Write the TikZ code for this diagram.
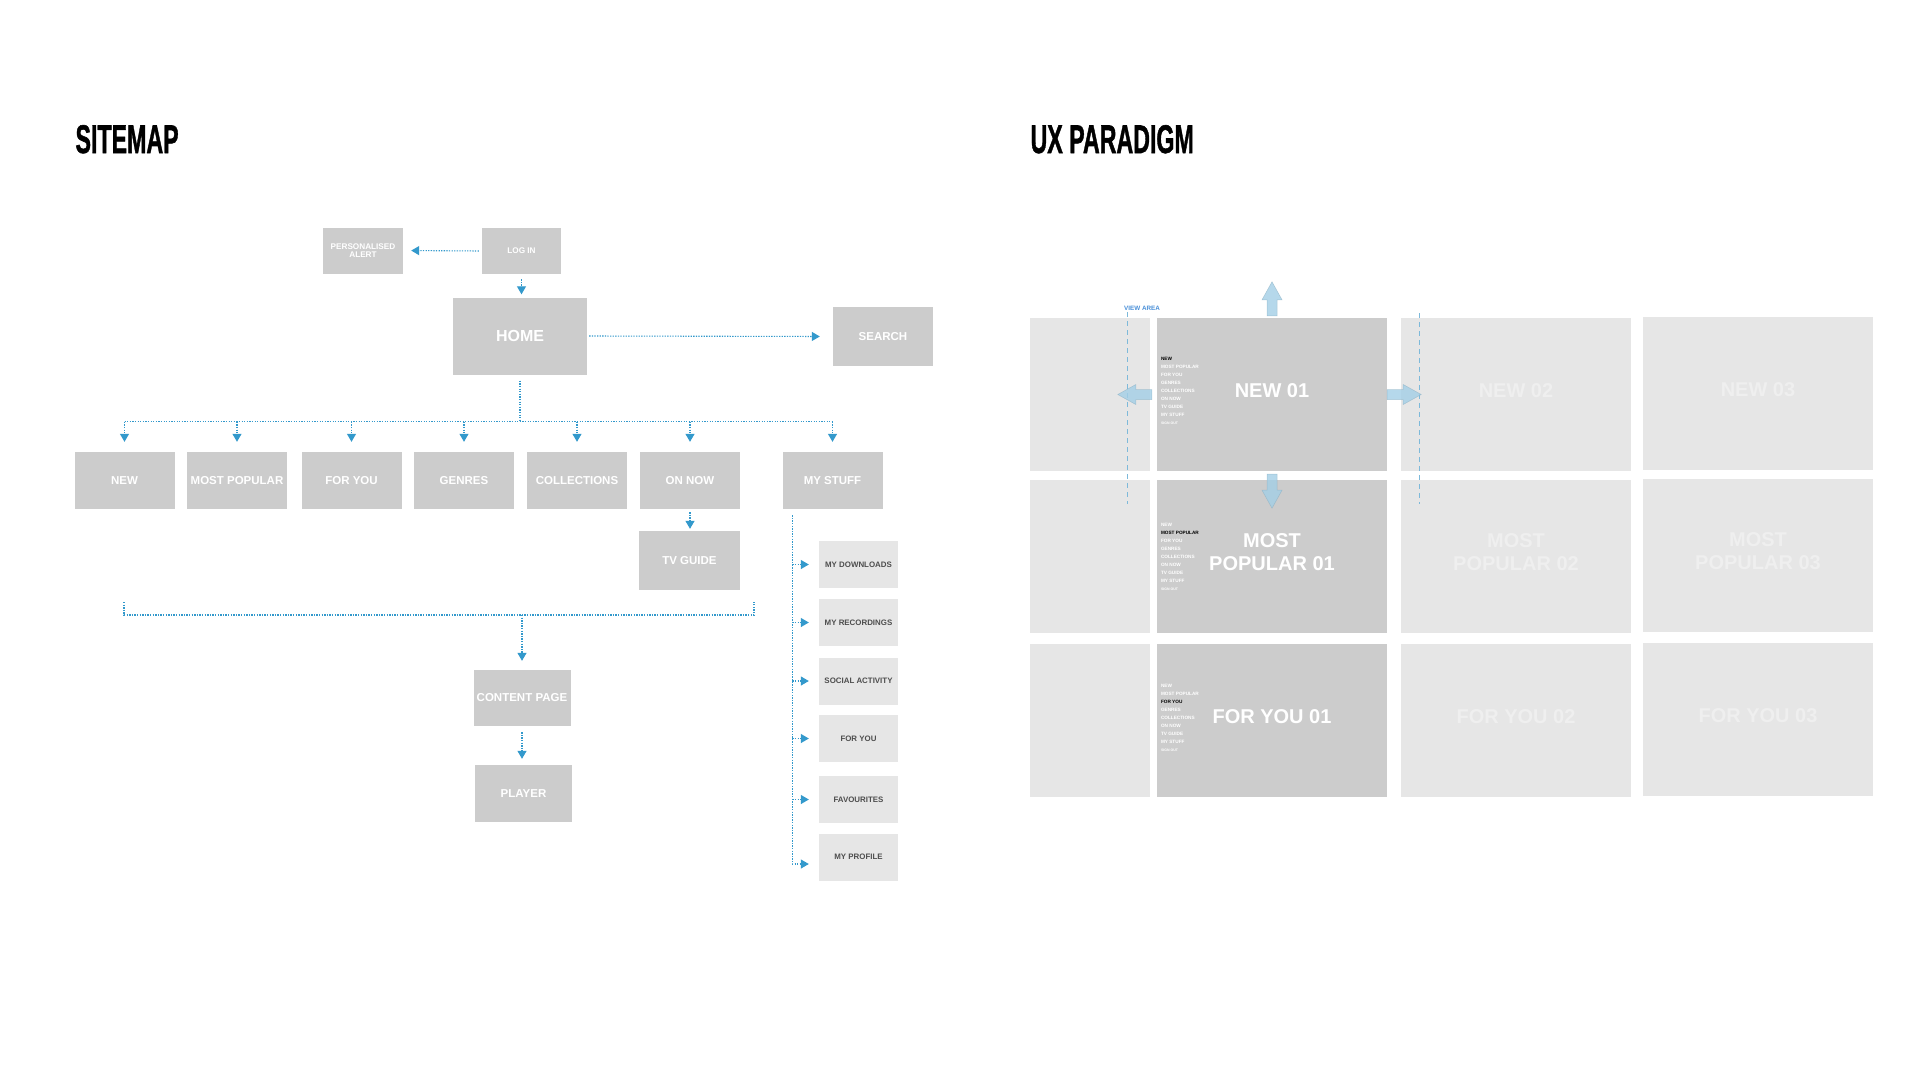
\documentclass[tikz,border=0pt]{standalone}
\usepackage{fontspec}
\setmainfont{Liberation Sans}
\newfontfamily\titlefont[FakeBold=1.5]{Liberation Sans}
\usetikzlibrary{arrows.meta}

\definecolor{boxgray}{HTML}{CCCCCC}
\definecolor{palegray}{HTML}{E6E6E6}
\definecolor{linkblue}{HTML}{3399CC}
\definecolor{subtext}{HTML}{4D4D4D}
\definecolor{ghost}{HTML}{EFEFEF}
\definecolor{viewblue}{HTML}{4A90D9}
\definecolor{dashblue}{HTML}{7DB9DA}
\definecolor{flowblue}{HTML}{A3CFE6}
\definecolor{flowedge}{HTML}{8AAFC2}

\newcommand{\activeitem}[1]{\textcolor{black}{#1}}

\begin{document}
\begin{tikzpicture}[x=1pt, y=-1pt,
  title/.style={anchor=base west, font=\titlefont\bfseries\fontsize{40}{40}\selectfont},
  box/.style={fill=boxgray, text=white, inner sep=0pt, align=center,
              font=\bfseries\fontsize{11.5}{13}\selectfont},
  catbox/.style={box, minimum width=100pt, minimum height=57pt},
  smallbox/.style={box, minimum width=80pt, minimum height=46pt,
                   font=\bfseries\fontsize{8.2}{9}\selectfont},
  subbox/.style={fill=palegray, text=subtext, inner sep=0pt, minimum width=79pt,
                 minimum height=47pt, font=\bfseries\fontsize{7.9}{9}\selectfont},
  link/.style={linkblue, line width=1.1pt, dash pattern=on 1.3pt off 1.3pt},
  arr/.style={link, -{Triangle[length=8pt,width=9pt]}},
  uxcell/.style={fill=palegray, text=ghost, inner sep=0pt, align=center,
                 minimum width=230pt, minimum height=153pt, text depth=7pt,
                 font=\bfseries\fontsize{20}{23}\selectfont},
  uxedge/.style={fill=palegray, minimum width=120pt, minimum height=153pt},
  menu/.style={anchor=north west, inner sep=0pt, align=left, text=white,
               font=\bfseries\fontsize{4.7}{8}\selectfont},
  viewline/.style={dashblue, line width=1pt, dash pattern=on 5pt off 4pt},
  uxarrow/.pic={\filldraw[fill=flowblue, draw=flowedge, fill opacity=0.8,
                 draw opacity=0.6, line width=0.5pt]
                 (0,-5) -- (16,-5) -- (16,-10) -- (34,0) -- (16,10) -- (16,5) -- (0,5) -- cycle;},
]
\useasboundingbox (0,0) rectangle (1920,1080);
\fill[white] (0,0) rectangle (1920,1080);

% titles
\node[title] (sitemap) at (72,153) {\scalebox{0.58}[1]{SITEMAP}};
\node[title] (paradigm) at (1027,153) {\scalebox{0.58}[1]{UX PARADIGM}};

% sitemap
\node[smallbox] (alert) at (363,250.5) {PERSONALISED\\[-1.5pt]ALERT};
\node[smallbox, minimum width=79pt] (login) at (521.5,251) {LOG IN};
\node[box, minimum width=134pt, minimum height=77pt,
      font=\bfseries\fontsize{16}{18}\selectfont] (home) at (520,336) {HOME};
\node[box, minimum width=100pt, minimum height=59pt] (search) at (883,336.5) {SEARCH};

\node[catbox] (new) at (124.5,480.5) {NEW};
\node[catbox] (popular) at (237,480.5) {MOST POPULAR};
\node[catbox] (foryou) at (351.5,480.5) {FOR YOU};
\node[catbox] (genres) at (464,480.5) {GENRES};
\node[catbox] (collections) at (577,480.5) {COLLECTIONS};
\node[catbox] (onnow) at (690,480.5) {ON NOW};
\node[catbox] (mystuff) at (832.5,480.5) {MY STUFF};

\node[catbox, minimum width=101pt, minimum height=59pt] (tvguide) at (689.5,560.5) {TV GUIDE};
\node[box, minimum width=97pt, minimum height=56pt] (content) at (522,698) {CONTENT PAGE};
\node[box, minimum width=97pt, minimum height=57pt] (player) at (523.5,793.5) {PLAYER};

\node[subbox] (downloads) at (858.5,564.5) {MY DOWNLOADS};
\node[subbox] (recordings) at (858.5,622.5) {MY RECORDINGS};
\node[subbox] (social) at (858.5,681) {SOCIAL ACTIVITY};
\node[subbox] (mine) at (858.5,738.5) {FOR YOU};
\node[subbox] (favourites) at (858.5,799.5) {FAVOURITES};
\node[subbox] (profile) at (858.5,857) {MY PROFILE};

\draw[arr, shorten <=3pt, shorten >=8pt] (login.west) -- (alert.east);
\draw[arr, shorten <=5pt, shorten >=3pt] (login.south) -- (login.south |- home.north);
\draw[arr, shorten <=2pt, shorten >=13pt] (home.east) -- (search.west);

\coordinate (bus) at ([yshift=-47pt]home.south);
\draw[link, shorten <=6pt] (home.south) -- (bus);
\draw[link] (new.north |- bus) -- (mystuff.north |- bus);
\foreach \n in {new,popular,foryou,genres,collections,onnow,mystuff}
  \draw[arr, shorten >=10pt] (\n.north |- bus) -- (\n.north);

\draw[arr, shorten <=3pt, shorten >=2pt] (onnow.south) -- (onnow.south |- tvguide.north);

\coordinate (brl) at (124,602);
\coordinate (brr) at (754,602);
\coordinate (brc) at (522,615);
\draw[link] (brl) -- ++(0,13) -| (brr);
\draw[arr, shorten >=9pt] (brc) -- (content.north);
\draw[arr, shorten <=6pt, shorten >=6pt] (content.south) -- (content.south |- player.north);

\coordinate (trunk) at ([xshift=10pt,yshift=-6pt]mystuff.south west);
\draw[arr, shorten >=10pt] (trunk) |- ([yshift=-7pt]profile.west);
\foreach \s in {downloads,recordings,social,mine,favourites}
  \draw[arr, shorten >=10pt] (trunk |- \s.west) -- (\s.west);

% ux paradigm grid
\node[uxedge] (edge1) at (1090,394.5) {};
\node[uxedge] (edge2) at (1090,556) {};
\node[uxedge] (edge3) at (1090,720) {};

\node[uxcell, fill=boxgray, text=white] (new01) at (1272,394.5) {NEW 01};
\node[uxcell, fill=boxgray, text=white] (popular01) at (1272,556) {MOST\\POPULAR 01};
\node[uxcell, fill=boxgray, text=white] (foryou01) at (1272,720) {FOR YOU 01};
\node[uxcell] (new02) at (1516,394.5) {NEW 02};
\node[uxcell] (popular02) at (1516,556) {MOST\\POPULAR 02};
\node[uxcell] (foryou02) at (1516,720) {FOR YOU 02};
\node[uxcell] (new03) at (1758,393.5) {NEW 03};
\node[uxcell] (popular03) at (1758,555) {MOST\\POPULAR 03};
\node[uxcell] (foryou03) at (1758,719) {FOR YOU 03};

\node[menu] (menu1) at ([xshift=4pt,yshift=-39pt]new01.north west)
  {\activeitem{NEW}\\MOST POPULAR\\FOR YOU\\GENRES\\COLLECTIONS\\ON NOW\\TV GUIDE\\MY STUFF\\{\fontsize{3.5}{8}\selectfont SIGN OUT}};
\node[menu] (menu2) at ([xshift=4pt,yshift=-44pt]popular01.north west)
  {NEW\\\activeitem{MOST POPULAR}\\FOR YOU\\GENRES\\COLLECTIONS\\ON NOW\\TV GUIDE\\MY STUFF\\{\fontsize{3.5}{8}\selectfont SIGN OUT}};
\node[menu] (menu3) at ([xshift=4pt,yshift=-41pt]foryou01.north west)
  {NEW\\MOST POPULAR\\\activeitem{FOR YOU}\\GENRES\\COLLECTIONS\\ON NOW\\TV GUIDE\\MY STUFF\\{\fontsize{3.5}{8}\selectfont SIGN OUT}};

\node[text=viewblue, inner sep=0pt, font=\bfseries\fontsize{6.3}{7}\selectfont] (viewarea) at (1142,308) {VIEW AREA};
\draw[viewline] (1127,312) -- (1127,504);
\draw[viewline] (1419,313) -- (1419,504);

\pic[rotate=90] at ([yshift=2pt]new01.north) {uxarrow};
\pic[rotate=180] at ([xshift=-5pt]new01.west) {uxarrow};
\pic at (new01.east) {uxarrow};
\pic[rotate=-90] at ([yshift=-3pt]new01.south) {uxarrow};

\end{tikzpicture}
\end{document}
